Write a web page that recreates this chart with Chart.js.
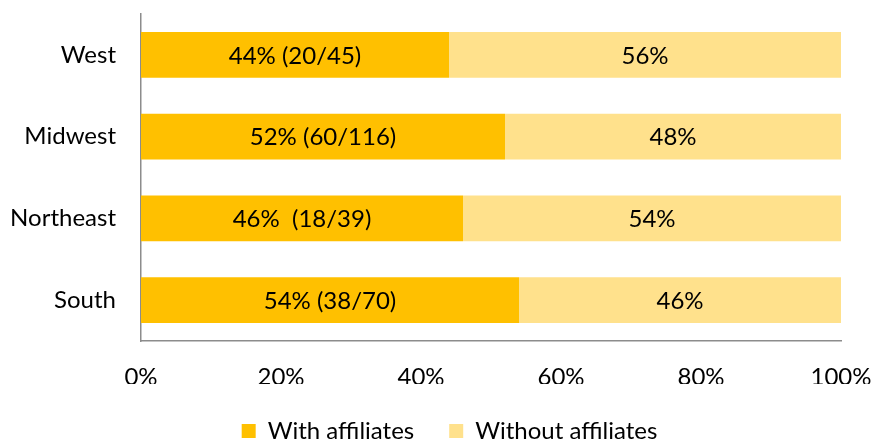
<!DOCTYPE html>
<html>
<head>
<meta charset="utf-8">
<script src="https://cdn.jsdelivr.net/npm/chart.js@4/dist/chart.umd.min.js"></script>
<style>
  html, body { margin: 0; padding: 0; background: #ffffff; }
  #wrap { width: 872px; height: 440px; }
</style>
</head>
<body>
<div id="wrap"><canvas id="c" width="872" height="440"></canvas></div>
<script>
// ---- Data ----
const categories = ["West", "Midwest", "Northeast", "South"];
const withAffiliates = [44, 52, 46, 54];
const withoutAffiliates = [56, 48, 54, 46];
const withLabels = ["44% (20/45)", "52% (60/116)", "46%  (18/39)", "54% (38/70)"];
const withoutLabels = ["56%", "48%", "54%", "46%"];
const seriesNames = ["With affiliates", "Without affiliates"];
const xTicks = [0, 20, 40, 60, 80, 100];

const FONT = "Lato, 'Open Sans', sans-serif";

const barLabelPlugin = {
  id: 'barLabels',
  afterDatasetsDraw(chart) {
    const ctx = chart.ctx;
    const labelSets = [withLabels, withoutLabels];
    ctx.save();
    ctx.font = "24px " + FONT;
    ctx.fillStyle = "#000000";
    ctx.textAlign = "center";
    ctx.textBaseline = "middle";
    chart.data.datasets.forEach((ds, di) => {
      const meta = chart.getDatasetMeta(di);
      meta.data.forEach((bar, i) => {
        const p = bar.getProps(['x', 'y', 'base'], true);
        ctx.fillText(labelSets[di][i], (p.x + p.base) / 2, p.y + 1);
      });
    });
    ctx.restore();
  }
};

// shift the legend block a little right so it is centred like the original
const legendShiftPlugin = {
  id: 'legendShift',
  afterLayout(chart) {
    const lg = chart.legend;
    if (!lg) return;
    const dx = 29;
    lg.left += dx; lg.right += dx;
    (lg.legendHitBoxes || []).forEach(h => { h.left += dx; });
  }
};

new Chart(document.getElementById('c'), {
  type: 'bar',
  data: {
    labels: categories,
    datasets: [
      { label: seriesNames[0], data: withAffiliates, backgroundColor: '#FFC000', borderWidth: 0 },
      { label: seriesNames[1], data: withoutAffiliates, backgroundColor: '#FFE18C', borderWidth: 0 }
    ]
  },
  options: {
    indexAxis: 'y',
    responsive: false,
    animation: false,
    layout: { padding: { top: 14, left: 0, right: 31, bottom: -13 } },
    datasets: { bar: { categoryPercentage: 0.56, barPercentage: 1.0 } },
    scales: {
      x: {
        stacked: true,
        min: 0, max: 100,
        afterBuildTicks(scale) { scale.ticks = xTicks.map(v => ({ value: v })); },
        afterFit(scale) { scale.height = 43; scale.paddingLeft = 0; scale.paddingRight = 0; },
        grid: { display: false, drawTicks: false },
        border: { display: true, color: '#8c8c8c', width: 1.5 },
        ticks: {
          callback: v => v + '%',
          color: '#000000',
          font: { family: FONT, size: 24 },
          padding: 22,
          maxRotation: 0
        }
      },
      y: {
        stacked: true,
        afterFit(scale) { scale.width = 141; scale.paddingTop = 0; scale.paddingBottom = 0; },
        grid: { display: false, drawTicks: false },
        border: { display: true, color: '#8c8c8c', width: 1.5 },
        ticks: {
          color: '#000000',
          font: { family: FONT, size: 24 },
          padding: 25
        }
      }
    },
    plugins: {
      legend: {
        position: 'bottom',
        labels: {
          color: '#000000',
          font: { family: FONT, size: 24 },
          boxWidth: 14,
          boxHeight: 14,
          padding: 35
        }
      },
      tooltip: { enabled: false }
    }
  },
  plugins: [barLabelPlugin, legendShiftPlugin]
});
</script>
</body>
</html>
